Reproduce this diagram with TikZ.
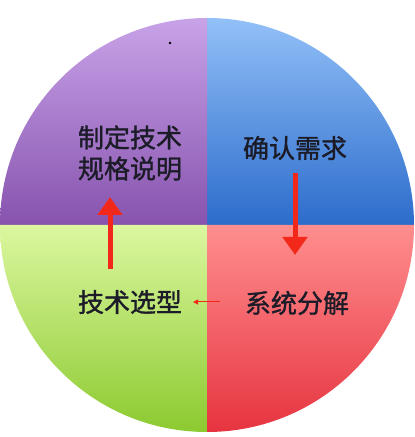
\documentclass[tikz,border=0pt]{standalone}
\usepackage{fontspec}
\newfontfamily\cjk[FakeBold=1.2]{Noto Sans CJK SC}
\usetikzlibrary{arrows.meta}
\definecolor{purpT}{HTML}{C8A3E8}
\definecolor{purpB}{HTML}{8753AE}
\definecolor{blueT}{HTML}{92C0F8}
\definecolor{blueB}{HTML}{2C6CCB}
\definecolor{redT}{HTML}{FF8E8E}
\definecolor{redB}{HTML}{E63440}
\definecolor{greenT}{HTML}{DCF7A0}
\definecolor{greenB}{HTML}{8CCA30}
\definecolor{txt}{HTML}{1C1C28}
\definecolor{arr}{HTML}{F2291A}
\tikzset{
  label/.style={font=\cjk\fontsize{26}{31}\selectfont, text=txt, align=center, inner sep=0pt},
  bigarrow/.style={draw=arr, line width=5pt, -{Triangle[width=24pt,length=18pt]}},
  smallarrow/.style={draw=arr, line width=1pt, -{Triangle[width=5pt,length=5pt]}}
}
\begin{document}
\begin{tikzpicture}[x=1pt,y=1pt]
\useasboundingbox (0,0) rectangle (415,437);
\fill[white] (0,0) rectangle (415,437);
\coordinate (C) at (207,212);
\def\R{207}
% quadrants
\shade[top color=blueT, bottom color=blueB] (C) -- ++(\R,0) arc[start angle=0, end angle=90, radius=\R] -- cycle;
\shade[top color=purpT, bottom color=purpB] (C) -- ++(0,\R) arc[start angle=90, end angle=180, radius=\R] -- cycle;
\shade[top color=greenT, bottom color=greenB] (C) -- ++(-\R,0) arc[start angle=180, end angle=270, radius=\R] -- cycle;
\shade[top color=redT, bottom color=redB] (C) -- ++(0,-\R) arc[start angle=270, end angle=360, radius=\R] -- cycle;
% dot
\fill[black] (170,394) circle (1.3);
% labels
\node[label] (spec) at (130,284) {制定技术\\规格说明};
\node[label] (req) at (295,289) {确认需求};
\node[label] (sel) at (130,135) {技术选型};
\node[label] (dec) at (297,134) {系统分解};
% arrows
\coordinate (a1s) at (295,264);
\coordinate (a1e) at (295,182);
\coordinate (a2s) at (110,168);
\coordinate (a2e) at (110,240);
\coordinate (a3s) at (220,135);
\coordinate (a3e) at (193,135);
\draw[bigarrow] (a1s) -- (a1e);
\draw[bigarrow] (a2s) -- (a2e);
\draw[smallarrow] (a3s) -- (a3e);
\end{tikzpicture}
\end{document}
